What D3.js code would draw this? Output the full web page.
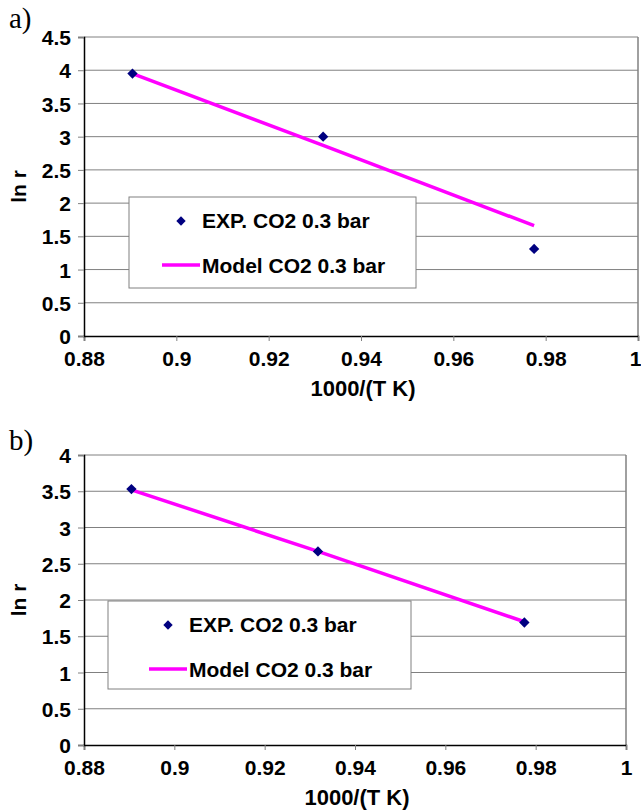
<!DOCTYPE html>
<html>
<head>
<meta charset="utf-8">
<script src="https://cdn.jsdelivr.net/npm/d3@7"></script>
<style>
  body { margin: 0; background: #fff; }
  text { font-family: Arial, "Liberation Sans", sans-serif; font-weight: bold; }
</style>
</head>
<body>
<div id="chart"></div>
<script>
// values
const invT = [0.8905, 0.9318, 0.9775];          // 1000/(T K)
const expA = [3.95, 3.0, 1.31];                 // panel a) experiment
const modelA = [3.95, 2.87, 1.66];              // panel a) model
const expB = [3.53, 2.67, 1.69];                // panel b) experiment
const modelB = [3.52, 2.67, 1.70];              // panel b) model
const xTicks = [0.88, 0.9, 0.92, 0.94, 0.96, 0.98, 1];
const yTicksA = [0, 0.5, 1, 1.5, 2, 2.5, 3, 3.5, 4, 4.5];
const yTicksB = [0, 0.5, 1, 1.5, 2, 2.5, 3, 3.5, 4];
const legendLabels = ["EXP. CO2 0.3 bar", "Model CO2 0.3 bar"];

const W = 641, H = 812;
const svg = d3.select("#chart").append("svg")
  .attr("width", W).attr("height", H)
  .attr("viewBox", [0, 0, W, H]);

function panel(p) {
  const g = svg.append("g");
  const x = d3.scaleLinear().domain([0.88, 1]).range([p.left, p.right]);
  const y = d3.scaleLinear().domain([0, p.ymax]).range([p.bottom, p.top]);

  // gridlines (horizontal only, like excel)
  g.append("g").selectAll("line").data(p.yTicks.filter(d => d > 0))
    .join("line")
    .attr("x1", p.left).attr("x2", p.right)
    .attr("y1", d => y(d)).attr("y2", d => y(d))
    .attr("stroke", "#808080").attr("stroke-width", 1);
  // right border of plot area
  g.append("line").attr("x1", p.right).attr("x2", p.right)
    .attr("y1", p.top).attr("y2", p.bottom)
    .attr("stroke", "#808080").attr("stroke-width", 1.5);

  const xAxis = g.append("g").attr("transform", `translate(0,${p.bottom})`)
    .call(d3.axisBottom(x).tickValues(xTicks).tickSize(5).tickPadding(6)
      .tickFormat(d => d3.format("")(+d.toFixed(2))));
  const yAxis = g.append("g").attr("transform", `translate(${p.left},0)`)
    .call(d3.axisLeft(y).tickValues(p.yTicks).tickSize(6).tickPadding(7)
      .tickFormat(d => d3.format("")(d)));
  [xAxis, yAxis].forEach(a => {
    a.select(".domain").attr("stroke", "#000").attr("stroke-width", 1.5);
    a.selectAll(".tick line").attr("stroke", "#808080");
    a.selectAll(".tick text").attr("fill", "#000").style("font-size", "21px")
      .style("font-family", "Arial, 'Liberation Sans', sans-serif").style("font-weight", "bold");
  });
  xAxis.selectAll(".tick text").attr("dy", "0.9em");
  yAxis.selectAll(".tick text").attr("dy", "0.36em");
  // keep the last x label inside the page
  xAxis.selectAll(".tick text").filter(d => d === 1 && p.right > 630)
    .attr("text-anchor", "end").attr("dx", 3);

  // axis titles
  g.append("text").attr("x", (p.left + p.right) / 2 + 2).attr("y", p.bottom + 60)
    .attr("text-anchor", "middle").style("font-size", "22px").text("1000/(T K)");
  g.append("text")
    .attr("transform", `translate(26,${(p.top + p.bottom) / 2}) rotate(-90)`)
    .attr("text-anchor", "middle").style("font-size", "21px").text("ln r");

  // panel letter
  g.append("text").attr("x", 9).attr("y", p.letterY)
    .style("font-family", "'Liberation Serif', 'Times New Roman', serif")
    .style("font-weight", "normal").style("font-size", "29px").text(p.letter);

  // model line
  const line = d3.line().x((d, i) => x(invT[i])).y(d => y(d));
  g.append("path").datum(p.model).attr("d", line)
    .attr("fill", "none").attr("stroke", "#ff00ff").attr("stroke-width", 3.5);

  // experimental points
  const diamond = d3.symbol().type(d3.symbolDiamond2).size(68);
  g.append("g").selectAll("path").data(p.exp).join("path")
    .attr("d", diamond)
    .attr("transform", (d, i) => `translate(${x(invT[i])},${y(d)})`)
    .attr("fill", "#000080");

  // legend box
  const lg = g.append("g");
  lg.append("rect").attr("x", p.leg[0]).attr("y", p.leg[1])
    .attr("width", p.leg[2]).attr("height", p.leg[3])
    .attr("fill", "#fff").attr("stroke", "#808080").attr("stroke-width", 1);
  const lx = p.leg[0], ly = p.leg[1];
  lg.append("path").attr("d", d3.symbol().type(d3.symbolDiamond2).size(56))
    .attr("transform", `translate(${lx + p.legSym},${ly + 24})`).attr("fill", "#000080");
  lg.append("line").attr("x1", lx + p.legSym - 19).attr("x2", lx + p.legSym + 19)
    .attr("y1", ly + 68).attr("y2", ly + 68)
    .attr("stroke", "#ff00ff").attr("stroke-width", 3.5);
  lg.selectAll("text.leg").data(legendLabels).join("text").attr("class", "leg")
    .attr("x", lx + p.legSym + 21).attr("y", (d, i) => ly + 31 + i * 44.5)
    .style("font-size", "21px").text(d => d);
}

panel({ letter: "a)", letterY: 28, left: 84, right: 638, top: 37, bottom: 336, ymax: 4.5,
  yTicks: yTicksA, exp: expA, model: modelA, leg: [129, 197, 287, 91], legSym: 52 });
panel({ letter: "b)", letterY: 450, left: 84, right: 626, top: 455, bottom: 745, ymax: 4,
  yTicks: yTicksB, exp: expB, model: modelB, leg: [108, 601, 303, 88], legSym: 60 });
</script>
</body>
</html>
